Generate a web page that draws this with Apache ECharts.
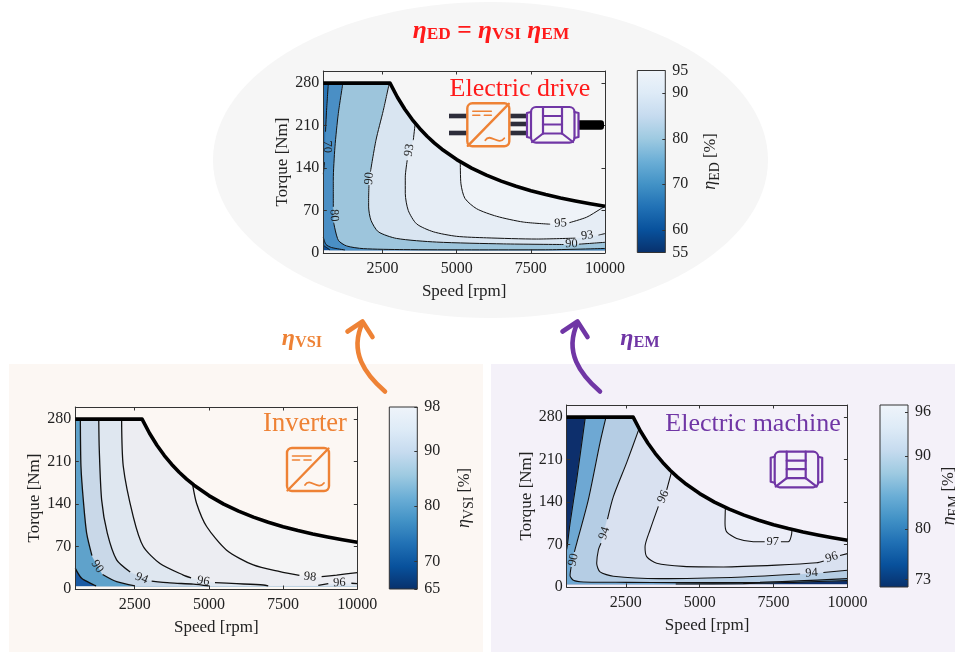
<!DOCTYPE html>
<html><head><meta charset="utf-8">
<style>html,body{margin:0;padding:0;background:#fff}#c{width:955px;height:652px}</style>
<script src="https://cdn.jsdelivr.net/npm/echarts@6/dist/echarts.min.js"></script>
</head><body><div id="c"></div>
<script>
// ---- data ----
const speedTicks=[2500,5000,7500,10000];
const torqueTicks=[0,70,140,210,280];
const envelope=[[500,280],[2750,280],[3000,256.7],[3250,236.9],[3500,220],[3750,205.3],[4000,192.5],[4250,181.2],[4500,171.1],[5000,154],[5500,140],[6000,128.3],[6500,118.5],[7000,110],[7500,102.7],[8000,96.3],[8500,90.6],[9000,85.6],[9500,81.1],[10000,77]];

// electric drive contours
const edC60=[[500,12.7],[725,5]];
const edC70Top=[[670,280],[610,235],[575,200],null,[540,150],[500,130]];
const edC70Bottom=[[500,26],[590,14],[780,9],[1230,5]];
const edC80=[[1160,280],[1006,230],[893,175],[837,120],[837,76],null,[850,50],[1006,21],[1287,11.6],[1849,7.2],[3200,5.6],[5500,5.2],[8000,5.3],[10000,7.5]];
const edC90=[[2725,280],[2523,235],[2276,186],[2090,134],null,[2040,112],[2029,90],[2029,76],[2107,54],[2355,35],[2973,24],[4322,18],[6570,15],[8600,14],null,[9120,14.5],[10000,17.6]];
const edC93=[[3600,214],[3535,186],null,[3330,153],[3265,125],[3265,98],[3366,70],[3647,48],[4209,35],[4996,27.5],[6008,25],[7694,23],[9000,24.5],null,[9780,29.5],[10000,32]];
const edC95=[[5120,150],[5142,114],[5277,90],[5670,73],[6345,60.5],[7244,51],[8150,47.5],null,[8800,50],[9380,59],[9830,72],[10000,77]];
const edLabelAt=[[620,175],[860,62],[2050,123],[3400,169.5],[8500,49],[9400,29],[8870,15]];
const edLabelText=['70','80','90','93','95','93','90'];
const edLabelAngle=[-90,-88,85,80,3,7,1];

// inverter contours
const vsiC80=[[500,34],[713,17.6],[1129,6.6],[1200,5]];
const vsiC90=[[670,280],[691,202],[769,147],[882,92],[1060,55],null,[1420,24],[1892,12],[2510,5]];
const vsiC94=[[1290,280],[1308,229],[1387,147],[1578,92],[1892,48],[2350,28],null,[3072,13],[3689,10],[4475,8],[5000,5]];
const vsiC96=[[2060,280],[2117,202],[2454,119],[2790,70],[3352,42],[4138,23],[4400,18.5],null,[5205,10.5],[5935,8.8],[6833,6.6],[7000,5]];
const vsiC96Right=[[8686,6],[9023,9],null,[9800,9.5],[10000,9]];
const vsiC98=[[4450,173],[4587,141],[4924,103],[5598,64],[6496,39.6],[7394,28.6],[8050,22.5],null,[8798,20.3],[9303,23],[10000,27]];
const vsiLabelAt=[[1241,37],[2735,17.6],[4812,13],[8405,20],[9400,10.5]];
const vsiLabelText=['90','94','96','98','96'];
const vsiLabelAngle=[-55,-22,-10,-5,2];

// electric machine contours
const emC80Top=[[1130,280],[838,177],[613,105],[523,69],[500,62]];
const emC80Bottom=[[4190,5],[6478,5.5],[8170,7.7],[10000,10.5]];
const emC90=[[1830,280],[1628,238],[1233,144],[838,72],[760,58],null,[650,33],[613,19],[726,11],[1064,8.3],[2530,7.7],[4222,7.2],[7042,7.7],[10000,13.8]];
const emC94=[[2950,261],[2530,205],[2079,149],[1880,112],null,[1660,72],[1572,61],[1515,39],[1628,25],[2079,17.7],[3658,13.8],[6478,16.6],[8400,21.5],null,[9186,24],[10000,27.7]];
const emC96=[[4050,190],[3884,160],null,[3602,133],[3320,94],[3151,66],[3207,50],[3546,39],[4448,34],[5802,33],[7606,36],[8960,40],[9200,43],null,[9750,52],[10000,55]];
const emC97=[[5870,131],[5858,105],[5914,91],[6253,80],[6817,74.7],[7200,74.5],null,[7750,74.5],[8001,74.7],[8114,88],[8120,95]];
const emLabelAt=[[726,45],[1775,88.5],[3771,149],[7471,74.7],[8791,23],[9468,48.7]];
const emLabelText=['90','94','96','97','94','96'];
const emLabelAngle=[78,72,65,0,3,18];

// colour bars: [min,max], tick values
const edBar=[55,95], edBarTicks=[55,60,70,80,90,95];
const vsiBar=[65,98], vsiBarTicks=[65,70,80,90,98];
const emBar=[72,97], emBarTicks=[73,80,90,96];

// ---- helpers ----
const SERIF='"Liberation Serif",serif';
const INK='#222', FRAME='#333', ORANGE='#ee8235', PURPLE='#7036a5';
const BLUES=['#08306b','#08519c','#2171b5','#4292c6','#6baed6','#9ecae1','#c6dbef','#deebf7','#eff4fa'];
const option={animation:false,backgroundColor:'#fff',grid:[],xAxis:[],yAxis:[],series:[],graphic:{elements:[]}};
const els=option.graphic.elements;

function region(pts){
  const p=pts.filter(Boolean), first=p[0][0];
  let last=p[p.length-1];
  if(last[1]<=6 && last[0]<10000){p.push([10000,5]); last=[10000,5];}
  const back=envelope.filter(e=>e[0]>first && e[0]<=last[0]).reverse();
  return p.concat(back);
}
function baseAxis(g,extra){return Object.assign({gridIndex:g,type:'value',z:5,splitLine:{show:false},
  axisLine:{show:true,onZero:false,lineStyle:{color:FRAME,width:1}}},extra);}
function ticks(vals,show,margin){return {
  axisTick:{show:true,inside:true,length:3.5,customValues:vals,lineStyle:{color:FRAME,width:1}},
  axisLabel:show?{show:true,customValues:vals,formatter:v=>String(v),color:INK,fontFamily:SERIF,fontSize:16,margin:margin}:{show:false}};}

function plot(box,fills,lines,labelAt,labelText,labelAngle,lw){
  const g=option.grid.length;
  option.grid.push({left:box[0],top:box[1],width:box[2],height:box[3],containLabel:false,outerBoundsMode:'none'});
  const xi=option.xAxis.length, yi=option.yAxis.length;
  const nameStyle={color:INK,fontFamily:SERIF,fontSize:17};
  option.xAxis.push(baseAxis(g,Object.assign({min:500,max:10000,position:'bottom',name:'Speed [rpm]',nameLocation:'middle',nameGap:30,nameTextStyle:nameStyle},ticks(speedTicks,true,8))));
  option.xAxis.push(baseAxis(g,Object.assign({min:500,max:10000,position:'top'},ticks(speedTicks,false))));
  option.yAxis.push(baseAxis(g,Object.assign({min:0,max:300,position:'left',name:'Torque [Nm]',nameLocation:'middle',nameGap:32,nameRotate:90,nameTextStyle:nameStyle},ticks(torqueTicks,true,4))));
  option.yAxis.push(baseAxis(g,Object.assign({min:0,max:300,position:'right'},ticks(torqueTicks,false))));
  fills.forEach(([pts,color],i)=>{
    const poly=region(pts);
    option.series.push({type:'custom',xAxisIndex:xi,yAxisIndex:yi,z:1+i*0.01,silent:true,clip:true,data:[poly[0]],encode:{x:0,y:1},
      renderItem:(p,api)=>({type:'polygon',shape:{points:poly.map(q=>api.coord(q))},style:{fill:color,stroke:color,lineWidth:0.5}})});
  });
  lines.forEach(l=>{
    option.series.push({type:'line',xAxisIndex:xi,yAxisIndex:yi,z:3,silent:true,symbol:'none',smooth:0.25,clip:true,
      lineStyle:{color:'#111',width:lw},data:l.map(q=>q||['-','-'])});
  });
  option.series.push({type:'line',xAxisIndex:xi,yAxisIndex:yi,z:7,silent:true,symbol:'none',smooth:false,clip:true,
    lineStyle:{color:'#000',width:3.6,join:'round',cap:'butt'},data:envelope});
  option.series.push({type:'custom',xAxisIndex:xi,yAxisIndex:yi,z:8,silent:true,data:labelAt,encode:{x:0,y:1},
    renderItem:(p,api)=>{const c=api.coord([api.value(0),api.value(1)]);
      return {type:'text',x:c[0],y:c[1],rotation:labelAngle[p.dataIndex]*Math.PI/180,
        style:{text:labelText[p.dataIndex],fill:'#222',font:'12.5px '+SERIF,align:'center',verticalAlign:'middle'}};}});
}
function colorbar(box,range,vals,sub,gap){
  const g=option.grid.length;
  option.grid.push({left:box[0],top:box[1],width:box[2],height:box[3],containLabel:false,outerBoundsMode:'none'});
  const xi=option.xAxis.length, yi=option.yAxis.length;
  option.xAxis.push({gridIndex:g,type:'value',min:0,max:1,show:false});
  option.yAxis.push({gridIndex:g,type:'value',min:range[0],max:range[1],position:'right',z:5,splitLine:{show:false},
    axisLine:{show:false,onZero:false},
    axisTick:{show:true,inside:true,length:3,customValues:vals,lineStyle:{color:FRAME}},
    axisLabel:{customValues:vals,formatter:v=>String(v),color:INK,fontFamily:SERIF,fontSize:16,margin:7},
    name:'{e|\u03b7}{s|'+sub+'} {t|[%]}',nameLocation:'middle',nameGap:gap,nameRotate:90,
    nameTextStyle:{color:INK,fontFamily:SERIF,fontSize:16,rich:{
      e:{fontFamily:SERIF,fontStyle:'italic',fontSize:18,color:INK},
      s:{fontFamily:SERIF,fontSize:14,color:INK,padding:[10,0,0,0]},
      t:{fontFamily:SERIF,fontSize:16.5,color:INK}}}});
  option.series.push({type:'custom',xAxisIndex:xi,yAxisIndex:yi,z:2,silent:true,clip:false,data:[[0,range[0],1,range[1]]],encode:{x:[0,2],y:[1,3]},
    renderItem:(p,api)=>{const a=api.coord([0,range[1]]),b=api.coord([1,range[0]]);
      return {type:'rect',shape:{x:a[0],y:a[1],width:b[0]-a[0],height:b[1]-a[1]},
        style:{stroke:FRAME,lineWidth:1,fill:new echarts.graphic.LinearGradient(0,1,0,0,BLUES.map((c,i)=>({offset:i/(BLUES.length-1),color:c})))}};}});
}

// backgrounds
els.push({type:'ellipse',z:-10,shape:{cx:490.5,cy:160,rx:277.5,ry:158},style:{fill:'#f6f6f6'}});
els.push({type:'rect',z:-10,shape:{x:9,y:364,width:474,height:288},style:{fill:'#fcf7f3'}});
els.push({type:'rect',z:-10,shape:{x:491,y:364,width:464,height:288},style:{fill:'#f4f1f9'}});

// plots
plot([323.3,71,281.7,182],[
  [[[500,280],[500,5]],'#114f96'],
  [[[500,280]].concat(edC60),'#2a75b5'],
  [edC70Top.concat(edC70Bottom),'#4a8fc5'],
  [edC80,'#9dc5dc'],[edC90,'#d9e5f1'],[edC93,'#e6edf5'],[edC95,'#eff3f8']
],[edC60,edC70Top,edC70Bottom,edC80,edC90,edC93,edC95],edLabelAt,edLabelText,edLabelAngle,1);
plot([75.3,407,282,182],[
  [[[500,280],[500,5]],'#1a5aa3'],
  [[[500,280]].concat(vsiC80),'#5fa2cb'],
  [vsiC90,'#c9d8e8'],[vsiC94,'#dfe7f0'],
  [vsiC96.concat(vsiC96Right),'#ecedf2'],[vsiC98,'#f4f4f5']
],[vsiC80,vsiC90,vsiC94,vsiC96,vsiC96Right,vsiC98],vsiLabelAt,vsiLabelText,vsiLabelAngle,1.3);
plot([566.7,405,280.7,182],[
  [[[500,280],[500,5]],'#0d2f6c'],
  [emC80Top.concat([[500,5]],emC80Bottom),'#6ea8d3'],
  [emC90,'#b5cde4'],[emC94,'#d9e1f0'],[emC96,'#e6e9f5'],[emC97,'#eceef8']
],[emC80Top,emC80Bottom,emC90,emC94,emC96,emC97],emLabelAt,emLabelText,emLabelAngle,1.1);
colorbar([637.3,70.5,28,182],edBar,edBarTicks,'ED',33);
colorbar([389.3,407,28,182],vsiBar,vsiBarTicks,'VSI',35);
colorbar([880,405,28,182],emBar,emBarTicks,'EM',29);

// titles
function T(x,y,text,size,color,extra){els.push(Object.assign({type:'text',z:100,x,y,style:Object.assign({text,fill:color,font:size+'px '+SERIF,textAlign:'center',textVerticalAlign:'middle'},extra||{})}));}
T(520,89,'Electric drive',26,'#ff1a1a');
T(305,424,'Inverter',26.5,ORANGE);
T(753,424,'Electric machine',26,PURPLE);
function etaRich(color,size){const bi='italic bold ';return {
  e:{font:bi+size+'px '+SERIF,fill:color,color:color},
  s:{font:'bold '+(size*0.68)+'px '+SERIF,fill:color,color:color,padding:[7,0,0,0]},
  q:{font:'bold '+size+'px '+SERIF,fill:color,color:color}};}
T(491,31,'{e|\u03b7}{s|ED}{q| = }{e|\u03b7}{s|VSI}{q| }{e|\u03b7}{s|EM}',25.5,'#ff1a1a',{rich:etaRich('#ff1a1a',25.5)});
T(302,339,'{e|\u03b7}{s|VSI}',24,ORANGE,{rich:etaRich(ORANGE,24)});
T(640,339,'{e|\u03b7}{s|EM}',24,PURPLE,{rich:etaRich(PURPLE,24)});

// arrows
function arrow(c,sx){
  const st={stroke:c,lineWidth:4.6,lineCap:'round',lineJoin:'round',fill:'none'};
  els.push({type:'bezierCurve',z:100,shape:{x1:sx,y1:391.5,cpx1:sx-20,cpy1:374,cpx2:sx-36,cpy2:352,x2:sx-22.5,y2:323},style:st});
  els.push({type:'polyline',z:100,shape:{points:[[sx-37.5,331.5],[sx-22.5,321.5],[sx-12.5,337]]},style:st});
}
arrow(ORANGE,385);
arrow(PURPLE,600);

// icons
function inverter(x,y){
  const st={stroke:ORANGE,lineWidth:2.4,fill:'none',lineCap:'round'};
  els.push({type:'rect',z:100,shape:{x,y,width:42,height:43,r:5},style:st});
  const L=(a,b,c,d,w)=>els.push({type:'line',z:100,shape:{x1:x+a,y1:y+b,x2:x+c,y2:y+d},style:Object.assign({},st,{lineWidth:w||2.4})});
  L(0.5,42.5,41.5,0.5);
  L(5.5,8,24,8,1.6);L(5.5,12,12.5,12,1.6);L(17,12,24,12,1.6);
  els.push({type:'bezierCurve',z:100,shape:{x1:x+18,y1:y+37,cpx1:x+23,cpy1:y+29,cpx2:x+31,cpy2:y+43,x2:x+37,y2:y+35},style:Object.assign({},st,{lineWidth:1.8})});
}
function motor(x,y){
  const st={stroke:PURPLE,lineWidth:2.2,fill:'none',lineJoin:'round',lineCap:'round'};
  els.push({type:'rect',z:100,shape:{x:x+4,y:y,width:43.5,height:35.6,r:5},style:st});
  els.push({type:'polyline',z:100,shape:{points:[[x+4,y+5],[x,y+6],[x,y+30],[x+4,y+31]]},style:st});
  els.push({type:'polyline',z:100,shape:{points:[[x+47.5,y+5],[x+51.5,y+6],[x+51.5,y+30],[x+47.5,y+31]]},style:st});
  const L=(a,b,c,d)=>els.push({type:'line',z:100,shape:{x1:x+a,y1:y+b,x2:x+c,y2:y+d},style:st});
  L(16,0,16,26.5);L(35,0,35,26.5);L(16,9,35,9);L(16,17.5,35,17.5);L(16,26.5,35,26.5);
  L(5,35,16,26.5);L(35,26.5,46,35);
}
inverter(467.3,103.3);
motor(527,107);
inverter(287,448);
motor(770.7,451.7);
// power connectors of the drive icon
[[449,113.7,18,4.6,'#2d2d3a'],[449,130.7,18,4.6,'#2d2d3a'],[510.3,113.7,16,4.6,'#2d2d3a'],[510.3,121.7,16,4.6,'#2d2d3a'],[510.3,130.7,16,4.6,'#2d2d3a']]
 .forEach(r=>els.push({type:'rect',z:99,shape:{x:r[0],y:r[1],width:r[2],height:r[3]},style:{fill:r[4]}}));
els.push({type:'rect',z:99,shape:{x:578.5,y:120.3,width:25.5,height:9.4,r:[0,3,3,0]},style:{fill:'#000'}});

const chart=echarts.init(document.getElementById('c'),null,{renderer:'canvas',width:955,height:652});
chart.setOption(option);
</script></body></html>
